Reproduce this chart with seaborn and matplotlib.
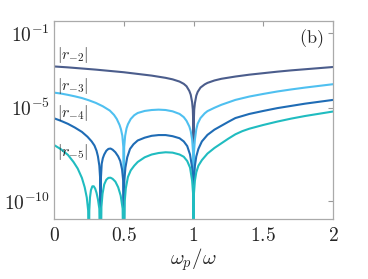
import numpy as np
import pandas as pd
import matplotlib
matplotlib.use("Agg")
import matplotlib.pyplot as plt
import seaborn as sns
from matplotlib.ticker import FixedLocator, FixedFormatter, NullLocator

# ---- data: x = omega_p/omega, y = log10 |r_n| ----
w_r2 = [0, 0.1, 0.2, 0.3, 0.4, 0.5, 0.6, 0.7, 0.8, 0.85, 0.9, 0.93, 0.95,
        0.97, 0.98, 0.99, 0.995, 0.999, 1.0, 1.001, 1.005, 1.01, 1.02, 1.03,
        1.05, 1.08, 1.1, 1.15, 1.2, 1.3, 1.4, 1.5, 1.6, 1.7, 1.8, 1.9, 2.0]
lg_r2 = [-2.79, -2.84, -2.90, -2.96, -3.03, -3.10, -3.19, -3.28, -3.40,
         -3.48, -3.60, -3.72, -3.85, -4.10, -4.30, -4.70, -5.1, -6.0, -14,
         -6.0, -5.1, -4.75, -4.35, -4.15, -3.92, -3.75, -3.67, -3.54, -3.45,
         -3.33, -3.23, -3.15, -3.07, -3.00, -2.94, -2.88, -2.82]

w_r3 = [0, 0.05, 0.1, 0.15, 0.2, 0.25, 0.3, 0.35, 0.4, 0.43, 0.45, 0.47,
        0.48, 0.49, 0.497, 0.5, 0.503, 0.51, 0.52, 0.53, 0.55, 0.575, 0.6,
        0.65, 0.7, 0.75, 0.8, 0.85, 0.9, 0.93, 0.95, 0.97, 0.98, 0.99,
        0.997, 1.0, 1.003, 1.01, 1.02, 1.03, 1.05, 1.08, 1.1, 1.15, 1.2,
        1.3, 1.4, 1.5, 1.6, 1.7, 1.8, 1.9, 2.0]
lg_r3 = [-4.19, -4.24, -4.31, -4.39, -4.48, -4.60, -4.74, -4.92, -5.15,
         -5.38, -5.60, -5.92, -6.15, -6.5, -7.1, -14, -7.1, -6.5, -6.1,
         -5.88, -5.6, -5.40, -5.28, -5.17, -5.12, -5.10, -5.12, -5.19,
         -5.33, -5.50, -5.70, -6.0, -6.25, -6.7, -7.4, -14, -7.4, -6.7,
         -6.15, -5.85, -5.55, -5.3, -5.18, -5.0, -4.84, -4.58, -4.40,
         -4.26, -4.13, -4.02, -3.92, -3.83, -3.74]

w_r4 = [0, 0.05, 0.1, 0.15, 0.2, 0.24, 0.27, 0.29, 0.305, 0.315, 0.325,
        0.331, 0.3333, 0.336, 0.342, 0.35, 0.36, 0.375, 0.39, 0.405, 0.42,
        0.44, 0.46, 0.475, 0.488, 0.496, 0.5, 0.504, 0.512, 0.525, 0.545,
        0.57, 0.6, 0.65, 0.7, 0.75, 0.8, 0.85, 0.9, 0.93, 0.955, 0.975,
        0.99, 0.997, 1.0, 1.003, 1.01, 1.02, 1.035, 1.06, 1.1, 1.15, 1.2,
        1.25, 1.3, 1.4, 1.5, 1.6, 1.7, 1.8, 1.9, 2.0]
lg_r4 = [-5.56, -5.70, -5.86, -6.06, -6.29, -6.55, -6.80, -7.02, -7.30,
         -7.6, -8.1, -8.8, -14, -8.8, -8.0, -7.7, -7.5, -7.3, -7.2, -7.18,
         -7.24, -7.38, -7.6, -7.85, -8.3, -8.9, -14, -8.9, -8.2, -7.65,
         -7.2, -6.95, -6.75, -6.6, -6.5, -6.46, -6.46, -6.52, -6.63, -6.8,
         -7.05, -7.5, -8.2, -8.9, -14, -8.9, -8.1, -7.6, -7.2, -6.8, -6.45,
         -6.17, -5.96, -5.75, -5.55, -5.33, -5.17, -5.02, -4.9, -4.78,
         -4.68, -4.58]

w_r5 = [0, 0.05, 0.1, 0.14, 0.17, 0.2, 0.22, 0.235, 0.245, 0.25, 0.253,
        0.258, 0.265, 0.275, 0.285, 0.295, 0.305, 0.315, 0.325, 0.3333,
        0.34, 0.348, 0.36, 0.375, 0.39, 0.405, 0.42, 0.44, 0.46, 0.478,
        0.492, 0.5, 0.507, 0.515, 0.53, 0.55, 0.575, 0.6, 0.65, 0.7, 0.75,
        0.8, 0.85, 0.9, 0.93, 0.955, 0.975, 0.99, 0.997, 1.0, 1.003, 1.01,
        1.02, 1.035, 1.06, 1.1, 1.15, 1.2, 1.25, 1.3, 1.35, 1.4, 1.5, 1.6,
        1.7, 1.8, 1.9, 2.0]
lg_r5 = [-6.99, -7.22, -7.52, -7.90, -8.25, -8.75, -9.25, -9.8, -10.5, -15,
         -10.5, -9.8, -9.4, -9.2, -9.2, -9.32, -9.55, -9.9, -10.4, -15,
         -10.3, -9.6, -9.1, -8.85, -8.75, -8.74, -8.8, -8.95, -9.25, -9.7,
         -10.4, -15, -10.0, -9.3, -8.7, -8.35, -8.1, -7.9, -7.65, -7.5,
         -7.42, -7.38, -7.4, -7.5, -7.62, -7.85, -8.2, -8.9, -9.6, -15,
         -9.6, -8.9, -8.45, -8.1, -7.8, -7.45, -7.15, -6.9, -6.65, -6.42,
         -6.25, -6.12, -5.92, -5.74, -5.58, -5.44, -5.32, -5.2]

series_names = ["r2", "r3", "r4", "r5"]
series_labels = [r"$|r_{-2}|$", r"$|r_{-3}|$", r"$|r_{-4}|$", r"$|r_{-5}|$"]
label_lg = [-2.18, -3.83, -5.28, -7.36]
colors = ["#4b5d8c", "#4fc0f0", "#1f6cb5", "#20bcc0"]

xticks = [0, 0.5, 1, 1.5, 2]
xticklabels = ["$0$", "$0.5$", "$1$", "$1.5$", "$2$"]
yticks = [1e-10, 1e-5, 1e-1]
yticklabels = ["$10^{-10}$", "$10^{-5}$", "$10^{-1}$"]

frames = []
for name, w, lg in zip(series_names, [w_r2, w_r3, w_r4, w_r5],
                       [lg_r2, lg_r3, lg_r4, lg_r5]):
    frames.append(pd.DataFrame({"w": w, "r": np.power(10.0, lg),
                                "series": name}))
df = pd.concat(frames, ignore_index=True)

sns.set_style("white")
plt.rcParams["mathtext.fontset"] = "cm"
plt.rcParams["font.family"] = ["DejaVu Serif"]

fig = plt.figure(figsize=(3.68, 2.79), dpi=100)
ax = fig.add_axes([0.1467, 0.215, 0.7583, 0.7097])

sns.lineplot(data=df, x="w", y="r", hue="series", palette=colors,
             hue_order=series_names, estimator=None, sort=False,
             linewidth=1.5, legend=False, ax=ax)

ax.set_yscale("log")
ax.set_xlim(0, 2)
ax.set_ylim(10 ** -10.95, 10 ** -0.36)

ax.xaxis.set_major_locator(FixedLocator(xticks))
ax.xaxis.set_major_formatter(FixedFormatter(xticklabels))
ax.yaxis.set_major_locator(FixedLocator(yticks))
ax.yaxis.set_major_formatter(FixedFormatter(yticklabels))
ax.yaxis.set_minor_locator(NullLocator())
ax.xaxis.set_minor_locator(NullLocator())

ax.tick_params(direction="in", length=3.5, width=0.8, color="#999999",
               top=True, right=True, labelsize=14)
ax.tick_params(axis="x", pad=6)
ax.tick_params(axis="y", pad=3)
for s in ax.spines.values():
    s.set_color("#aaaaaa")
    s.set_linewidth(0.9)

ax.set_xlabel(r"$\omega_p/\omega$", fontsize=15, labelpad=1)
ax.set_ylabel("")

for lab, lg in zip(series_labels, label_lg):
    ax.text(0.025, 10 ** lg, lab, fontsize=11.5, ha="left", va="center")

ax.text(0.964, 0.912, r"$\mathrm{(b)}$", transform=ax.transAxes,
        fontsize=13, ha="right", va="center")

fig.savefig("out.png", dpi=100)
